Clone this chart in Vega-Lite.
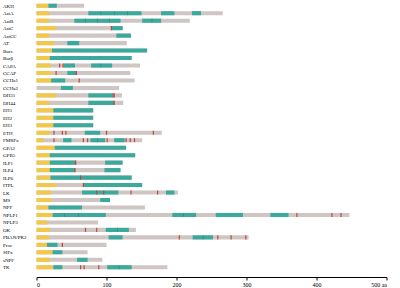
{
 "$schema": "https://vega.github.io/schema/vega-lite/v6.json",
 "width": 350, "height": 269,
 "autosize": {"type": "none"},
 "padding": {"left": 36.5, "top": 2, "right": 13.5, "bottom": 17},
 "config": {"view": {"stroke": null}, "font": "Liberation Serif"},
 "data": {"values": [
  {"g":"AKH","t":"len","s":0,"e":68},{"g":"AKH","t":"sp","s":0,"e":17},{"g":"AKH","t":"dom","s":17,"e":29},
  {"g":"AstA","t":"len","s":0,"e":266},{"g":"AstA","t":"sp","s":0,"e":18},{"g":"AstA","t":"dom","s":74,"e":150},{"g":"AstA","t":"dom","s":178,"e":197},{"g":"AstA","t":"dom","s":222,"e":235},
  {"g":"AstA","t":"div","s":92},{"g":"AstA","t":"div","s":111},{"g":"AstA","t":"div","s":130},
  {"g":"AstB","t":"len","s":0,"e":219},{"g":"AstB","t":"sp","s":0,"e":18},{"g":"AstB","t":"dom","s":54,"e":120},{"g":"AstB","t":"dom","s":151,"e":178},
  {"g":"AstB","t":"div","s":70},{"g":"AstB","t":"div","s":87},{"g":"AstB","t":"div","s":104},{"g":"AstB","t":"div","s":165},
  {"g":"AstC","t":"len","s":0,"e":123},{"g":"AstC","t":"sp","s":0,"e":28},{"g":"AstC","t":"dom","s":107,"e":123},{"g":"AstC","t":"cut","s":107},
  {"g":"AstCC","t":"len","s":0,"e":135},{"g":"AstCC","t":"sp","s":0,"e":18},{"g":"AstCC","t":"dom","s":114,"e":135},
  {"g":"AT","t":"len","s":0,"e":129},{"g":"AT","t":"sp","s":0,"e":25},{"g":"AT","t":"dom","s":44,"e":61},
  {"g":"Burs","t":"len","s":0,"e":158},{"g":"Burs","t":"sp","s":0,"e":22},{"g":"Burs","t":"dom","s":22,"e":158},
  {"g":"Burβ","t":"len","s":0,"e":136},{"g":"Burβ","t":"sp","s":0,"e":19},{"g":"Burβ","t":"dom","s":19,"e":136},
  {"g":"CAPA","t":"len","s":0,"e":148},{"g":"CAPA","t":"sp","s":0,"e":20},{"g":"CAPA","t":"dom","s":39,"e":55},{"g":"CAPA","t":"dom","s":78,"e":108},
  {"g":"CAPA","t":"cut","s":33},{"g":"CAPA","t":"cut","s":38},{"g":"CAPA","t":"div","s":92},
  {"g":"CCAP","t":"len","s":0,"e":134},{"g":"CCAP","t":"sp","s":0,"e":21},{"g":"CCAP","t":"dom","s":44,"e":57},{"g":"CCAP","t":"cut","s":28},{"g":"CCAP","t":"cut","s":57},
  {"g":"CCHa1","t":"len","s":0,"e":140},{"g":"CCHa1","t":"sp","s":0,"e":21},{"g":"CCHa1","t":"dom","s":21,"e":41},{"g":"CCHa1","t":"cut","s":61},
  {"g":"CCHa2","t":"len","s":0,"e":118},{"g":"CCHa2","t":"dom","s":35,"e":52},
  {"g":"DH31","t":"len","s":0,"e":122},{"g":"DH31","t":"sp","s":0,"e":28},{"g":"DH31","t":"dom","s":74,"e":109},{"g":"DH31","t":"cut","s":109.5},{"g":"DH31","t":"cut","s":111},
  {"g":"DH44","t":"len","s":0,"e":124},{"g":"DH44","t":"sp","s":0,"e":18},{"g":"DH44","t":"dom","s":74,"e":111},{"g":"DH44","t":"cut","s":111},
  {"g":"EH1","t":"len","s":0,"e":81},{"g":"EH1","t":"sp","s":0,"e":24},{"g":"EH1","t":"dom","s":24,"e":81},
  {"g":"EH2","t":"len","s":0,"e":81},{"g":"EH2","t":"sp","s":0,"e":24},{"g":"EH2","t":"dom","s":24,"e":81},
  {"g":"EH3","t":"len","s":0,"e":81},{"g":"EH3","t":"sp","s":0,"e":24},{"g":"EH3","t":"dom","s":24,"e":81},
  {"g":"ETH","t":"len","s":0,"e":179},{"g":"ETH","t":"sp","s":0,"e":19},{"g":"ETH","t":"dom","s":69,"e":91},
  {"g":"ETH","t":"cut","s":25},{"g":"ETH","t":"cut","s":37},{"g":"ETH","t":"cut","s":42},{"g":"ETH","t":"cut","s":100},{"g":"ETH","t":"cut","s":167},
  {"g":"FMRFa","t":"len","s":0,"e":151},{"g":"FMRFa","t":"sp","s":0,"e":10},{"g":"FMRFa","t":"dom","s":38,"e":50},{"g":"FMRFa","t":"dom","s":77,"e":98},{"g":"FMRFa","t":"dom","s":111,"e":126},
  {"g":"FMRFa","t":"cut","s":25},{"g":"FMRFa","t":"cut","s":67},{"g":"FMRFa","t":"cut","s":73},{"g":"FMRFa","t":"cut","s":101},{"g":"FMRFa","t":"cut","s":128},{"g":"FMRFa","t":"cut","s":134},{"g":"FMRFa","t":"cut","s":140},{"g":"FMRFa","t":"div","s":87},
  {"g":"GPA2","t":"len","s":0,"e":128},{"g":"GPA2","t":"sp","s":0,"e":26},{"g":"GPA2","t":"dom","s":26,"e":128},
  {"g":"GPB5","t":"len","s":0,"e":141},{"g":"GPB5","t":"sp","s":0,"e":19},{"g":"GPB5","t":"dom","s":19,"e":141},
  {"g":"ILP1","t":"len","s":0,"e":123},{"g":"ILP1","t":"sp","s":0,"e":19},{"g":"ILP1","t":"dom","s":19,"e":56},{"g":"ILP1","t":"dom","s":98,"e":123},{"g":"ILP1","t":"cut","s":56},
  {"g":"ILP4","t":"len","s":0,"e":120},{"g":"ILP4","t":"sp","s":0,"e":19},{"g":"ILP4","t":"dom","s":19,"e":55},{"g":"ILP4","t":"dom","s":97,"e":120},{"g":"ILP4","t":"cut","s":55},
  {"g":"ILP6","t":"len","s":0,"e":136},{"g":"ILP6","t":"sp","s":0,"e":20},{"g":"ILP6","t":"dom","s":20,"e":136},{"g":"ILP6","t":"cut","s":63},
  {"g":"ITPL","t":"len","s":0,"e":151},{"g":"ITPL","t":"sp","s":0,"e":28},{"g":"ITPL","t":"dom","s":67,"e":151},{"g":"ITPL","t":"cut","s":67},
  {"g":"LK","t":"len","s":0,"e":202},{"g":"LK","t":"sp","s":0,"e":21},{"g":"LK","t":"dom","s":65,"e":117},{"g":"LK","t":"dom","s":185,"e":197},
  {"g":"LK","t":"cut","s":86},{"g":"LK","t":"cut","s":96},{"g":"LK","t":"cut","s":135},{"g":"LK","t":"cut","s":173},
  {"g":"MS","t":"len","s":0,"e":105},{"g":"MS","t":"sp","s":0,"e":21},{"g":"MS","t":"dom","s":91,"e":105},
  {"g":"NPF","t":"len","s":0,"e":155},{"g":"NPF","t":"sp","s":0,"e":17},{"g":"NPF","t":"dom","s":17,"e":65},
  {"g":"NPLP1","t":"len","s":0,"e":447},{"g":"NPLP1","t":"sp","s":0,"e":23},{"g":"NPLP1","t":"dom","s":23,"e":99},{"g":"NPLP1","t":"dom","s":194,"e":228},{"g":"NPLP1","t":"dom","s":256,"e":295},{"g":"NPLP1","t":"dom","s":334,"e":360},
  {"g":"NPLP1","t":"div","s":40},{"g":"NPLP1","t":"div","s":60},{"g":"NPLP1","t":"div","s":210},{"g":"NPLP1","t":"cut","s":372},{"g":"NPLP1","t":"cut","s":422},{"g":"NPLP1","t":"cut","s":435},
  {"g":"NPLP3","t":"len","s":0,"e":88},{"g":"NPLP3","t":"sp","s":0,"e":15},
  {"g":"OK","t":"len","s":0,"e":142},{"g":"OK","t":"sp","s":0,"e":19},{"g":"OK","t":"dom","s":99,"e":132},{"g":"OK","t":"cut","s":70},{"g":"OK","t":"cut","s":86},{"g":"OK","t":"div","s":116},
  {"g":"PBAN/PK2","t":"len","s":0,"e":303},{"g":"PBAN/PK2","t":"sp","s":0,"e":18},{"g":"PBAN/PK2","t":"dom","s":103,"e":123},{"g":"PBAN/PK2","t":"dom","s":223,"e":252},
  {"g":"PBAN/PK2","t":"cut","s":204},{"g":"PBAN/PK2","t":"cut","s":259},{"g":"PBAN/PK2","t":"cut","s":278},{"g":"PBAN/PK2","t":"cut","s":299},{"g":"PBAN/PK2","t":"div","s":238},
  {"g":"Proc","t":"len","s":0,"e":100},{"g":"Proc","t":"sp","s":0,"e":15},{"g":"Proc","t":"dom","s":15,"e":30},{"g":"Proc","t":"cut","s":37},
  {"g":"SIFa","t":"len","s":0,"e":73},{"g":"SIFa","t":"sp","s":0,"e":23},{"g":"SIFa","t":"dom","s":23,"e":37},
  {"g":"sNPF","t":"len","s":0,"e":94},{"g":"sNPF","t":"sp","s":0,"e":19},{"g":"sNPF","t":"dom","s":58,"e":73},
  {"g":"TK","t":"len","s":0,"e":187},{"g":"TK","t":"sp","s":0,"e":23},{"g":"TK","t":"dom","s":24,"e":37},{"g":"TK","t":"dom","s":101,"e":136},
  {"g":"TK","t":"cut","s":63},{"g":"TK","t":"cut","s":68},{"g":"TK","t":"cut","s":89},{"g":"TK","t":"div","s":118}
 ]},
 "encoding": {
  "y": {"field": "g", "type": "nominal",
   "scale": {"domain": ["AKH","AstA","AstB","AstC","AstCC","AT","Burs","Burβ","CAPA","CCAP","CCHa1","CCHa2","DH31","DH44","EH1","EH2","EH3","ETH","FMRFa","GPA2","GPB5","ILP1","ILP4","ILP6","ITPL","LK","MS","NPF","NPLP1","NPLP3","OK","PBAN/PK2","Proc","SIFa","sNPF","TK"], "paddingInner": 0, "paddingOuter": 0},
   "axis": {"title": null, "domain": false, "ticks": false, "tickSize": 0, "labelAlign": "left", "labelPadding": 34, "labelFontSize": 5, "labelFont": "Liberation Serif", "labelColor": "#000"}}
 },
 "layer": [
  {"transform": [{"filter": "datum.t == 'len'"}],
   "mark": {"type": "bar", "height": {"band": 0.55}, "color": "#cfc5c2"},
   "encoding": {
    "x": {"field": "s", "type": "quantitative", "scale": {"domain": [0, 500], "nice": false},
     "axis": {"title": null, "values": [0,100,200,300,400,500], "labelExpr": "datum.value == 500 ? '500 aa' : datum.label", "grid": false, "offset": 6, "domainColor": "#000", "tickColor": "#000", "tickSize": 3, "labelFontSize": 6, "labelColor": "#000", "labelFont": "Liberation Serif", "labelPadding": 1}},
    "x2": {"field": "e"}}},
  {"transform": [{"filter": "datum.t == 'sp' || datum.t == 'dom'"}],
   "mark": {"type": "bar", "height": {"band": 0.55}},
   "encoding": {
    "x": {"field": "s", "type": "quantitative"},
    "x2": {"field": "e"},
    "color": {"field": "t", "type": "nominal", "scale": {"domain": ["sp", "dom"], "range": ["#f2c84b", "#3ba99b"]}, "legend": null}}},
  {"transform": [{"filter": "datum.t == 'div'"}],
   "mark": {"type": "tick", "orient": "vertical", "thickness": 0.6, "size": 4.1, "color": "#2a8579", "opacity": 1},
   "encoding": {"x": {"field": "s", "type": "quantitative"}}},
  {"transform": [{"filter": "datum.t == 'cut'"}],
   "mark": {"type": "tick", "orient": "vertical", "thickness": 1.2, "size": 4.1, "color": "#c0463c", "opacity": 1},
   "encoding": {"x": {"field": "s", "type": "quantitative"}}}
 ]
}
